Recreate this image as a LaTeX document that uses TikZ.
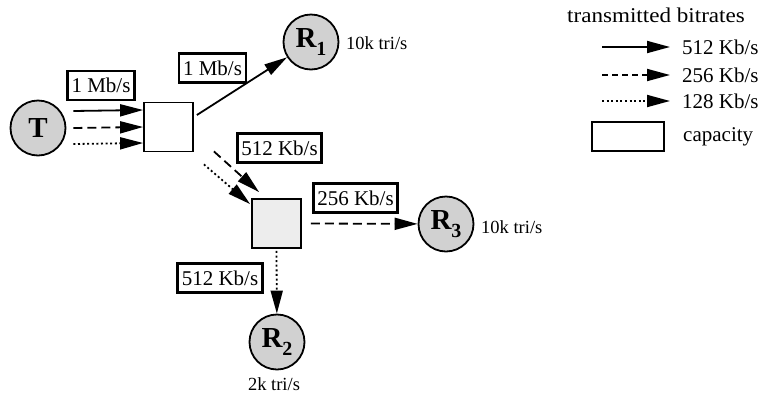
\documentclass[tikz,border=0pt]{standalone}
\usepackage{fontspec}
\setmainfont{Liberation Serif}
\usetikzlibrary{arrows.meta}

\tikzset{
  station/.style={circle, draw, line width=1.8pt, fill=black!18, minimum size=55pt,
    inner sep=0pt, font=\fontsize{29}{29}\selectfont\bfseries},
  router/.style={rectangle, draw, line width=1.8pt, minimum width=49pt, minimum height=49pt, inner sep=0pt},
  rate/.style={rectangle, draw, line width=2.6pt, fill=white, minimum height=29pt,
    inner xsep=4pt, inner ysep=0pt, font=\fontsize{21}{21}\selectfont},
  caption/.style={inner sep=0pt, font=\fontsize{18.5}{18.5}\selectfont},
  legtext/.style={inner sep=0pt, anchor=west, font=\fontsize{21}{21}\selectfont},
  flow/.style={line width=1.8pt, -{Triangle[length=23pt,width=12pt]}},
  full/.style={flow},
  half/.style={flow, dash pattern=on 9pt off 5pt},
  quarter/.style={flow, dash pattern=on 2pt off 2.6pt},
}

\newcommand{\sub}[1]{\raisebox{-0.28em}{\fontsize{20}{20}\selectfont\bfseries #1}}

\begin{document}
\begin{tikzpicture}[x=1pt, y=-1pt]
  \useasboundingbox (0,0) rectangle (761,400);

  % stations
  \node[station] (t)  at (38,128)   {T};
  \node[station] (r1) at (311,42)   {R\sub{1}};
  \node[station] (r3) at (446,224)  {R\sub{3}};
  \node[station] (r2) at (277,342)  {R\sub{2}};

  % routers
  \node[router, fill=white]   (b1) at (168.5,127) {};
  \node[router, fill=black!7] (b2) at (276.5,223.5) {};

  % rendering rates
  \node[caption, anchor=west] (c1) at (346,43)  {10k tri/s};
  \node[caption, anchor=west] (c3) at (481,227) {10k tri/s};
  \node[caption] (c2) at (274,384) {2k tri/s};

  % flows from the sender into the first router
  \draw[full]    ([shift={(7,-17)}]t.east) -- ([shift={(0,-17)}]b1.west);
  \draw[half]    ([shift={(7,0)}]t.east)   -- (b1.west);
  \draw[quarter] ([shift={(7,16)}]t.east)  -- ([shift={(0,16)}]b1.west);

  % first router onwards
  \draw[full] ([shift={(3,-12)}]b1.east) -- (r1);
  \draw[half]    ([shift={(20,-1)}]b1.south east) -- ([shift={(8,-6)}]b2.north west);
  \draw[quarter] ([shift={(10,12)}]b1.south east) -- ([shift={(-1,6)}]b2.north west);

  % second router onwards
  \draw[half]    ([shift={(9,0)}]b2.east)   -- (r3);
  \draw[quarter] ([shift={(0,2)}]b2.south)  -- (r2);

  % link bitrate labels
  \node[rate] (l1) at (101,85.5)   {1 Mb/s};
  \node[rate] (l2) at (212.5,68)   {1 Mb/s};
  \node[rate] (l3) at (279.5,148)  {512 Kb/s};
  \node[rate] (l4) at (355.5,198)  {256 Kb/s};
  \node[rate] (l5) at (220,278)    {512 Kb/s};

  % legend
  \node[inner sep=0pt, font=\fontsize{21}{21}\selectfont] (lh) at (656,15)
    {\scalebox{1.1}[1]{transmitted bitrates}};
  \node[legtext] (lt1) at (682,47)  {512 Kb/s};
  \node[legtext] (lt2) at (682,75)  {256 Kb/s};
  \node[legtext] (lt3) at (682,101) {128 Kb/s};
  \coordinate (ls1) at (602,47);
  \coordinate (ls2) at (602,75);
  \coordinate (ls3) at (602,101);
  \draw[full, shorten >=12pt] (ls1) -- (lt1.west);
  \draw[flow, dash pattern=on 6pt off 4pt, shorten >=12pt] (ls2) -- (lt2.west);
  \draw[quarter, shorten >=12pt] (ls3) -- (lt3.west);
  \node[rate, minimum width=72pt] (lb) at (628,136.5) {};
  \node[legtext] (lt4) at (683,137) {capacity};
\end{tikzpicture}
\end{document}
